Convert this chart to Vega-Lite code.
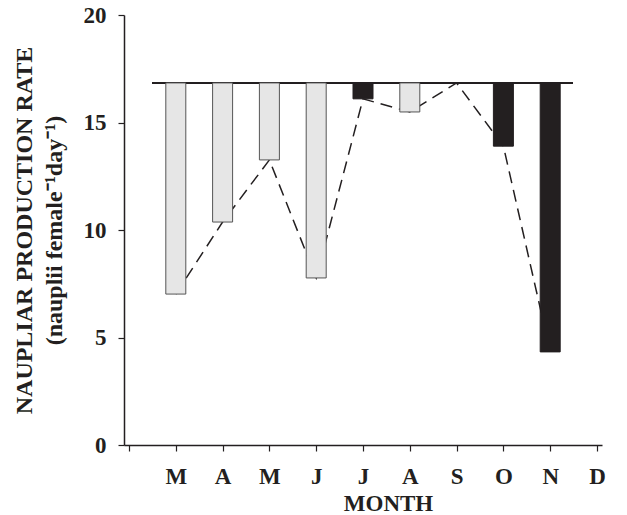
{
  "$schema": "https://vega.github.io/schema/vega-lite/v6.json",
  "width": 478,
  "height": 430,
  "autosize": "none",
  "padding": {"left": 124, "top": 15, "right": 25, "bottom": 70},
  "background": "white",
  "config": {
    "view": {"stroke": null},
    "axis": {
      "grid": false,
      "domainColor": "#231f20",
      "domainWidth": 1.5,
      "tickColor": "#231f20",
      "tickWidth": 1.2,
      "tickSize": 6,
      "labelFont": "Liberation Serif",
      "labelFontWeight": "bold",
      "labelColor": "#231f20",
      "titleFont": "Liberation Serif",
      "titleFontWeight": "bold",
      "titleColor": "#231f20"
    }
  },
  "datasets": {
    "rates": [
      {"x": 1, "month": "M", "rate": 7.02, "kind": "stippled"},
      {"x": 2, "month": "A", "rate": 10.37, "kind": "stippled"},
      {"x": 3, "month": "M", "rate": 13.26, "kind": "stippled"},
      {"x": 4, "month": "J", "rate": 7.77, "kind": "stippled"},
      {"x": 5, "month": "J", "rate": 16.1, "kind": "solid"},
      {"x": 6, "month": "A", "rate": 15.49, "kind": "stippled"},
      {"x": 7, "month": "S", "rate": 16.84, "kind": "none"},
      {"x": 8, "month": "O", "rate": 13.9, "kind": "solid"},
      {"x": 9, "month": "N", "rate": 4.33, "kind": "solid"}
    ]
  },
  "data": {"name": "rates"},
  "layer": [
    {
      "mark": {"type": "line", "color": "#231f20", "strokeWidth": 1.5, "strokeDash": [12, 7]},
      "encoding": {
        "x": {
          "field": "x",
          "type": "quantitative",
          "scale": {"domain": [0, 10], "nice": false, "zero": false},
          "axis": {
            "values": [0, 1, 2, 3, 4, 5, 6, 7, 8, 9, 10],
            "labelExpr": "['', 'M', 'A', 'M', 'J', 'J', 'A', 'S', 'O', 'N', 'D'][datum.value]",
            "labelFontSize": 23,
            "labelPadding": 14,
            "labelDx": 5,
            "labelFlush": false,
            "labelOverlap": false,
            "title": "MONTH",
            "titleFontSize": 23,
            "titleX": 264,
            "titleY": 58,
            "titleBaseline": "middle"
          }
        },
        "y": {
          "field": "rate",
          "type": "quantitative",
          "scale": {"domain": [0, 20], "nice": false},
          "axis": {
            "values": [0, 5, 10, 15, 20],
            "labelFontSize": 23,
            "labelPadding": 12,
            "title": ["NAUPLIAR PRODUCTION RATE", "(nauplii female⁻¹day⁻¹)"],
            "titleFontSize": 24,
            "titleLineHeight": 30,
            "titlePadding": 17
          }
        }
      }
    },
    {
      "mark": {"type": "rule", "color": "#231f20", "strokeWidth": 1.8},
      "encoding": {
        "x": {"datum": 0.5, "type": "quantitative"},
        "x2": {"datum": 9.48},
        "y": {"datum": 16.84, "type": "quantitative"}
      }
    },
    {
      "transform": [{"filter": "datum.kind !== 'none'"}],
      "mark": {"type": "bar", "width": 20, "strokeWidth": 1},
      "encoding": {
        "x": {"field": "x", "type": "quantitative"},
        "y": {"field": "rate", "type": "quantitative"},
        "y2": {"datum": 16.84},
        "fill": {
          "field": "kind",
          "type": "nominal",
          "scale": {"domain": ["stippled", "solid"], "range": ["#e6e6e6", "#231f20"]},
          "legend": null
        },
        "stroke": {
          "field": "kind",
          "type": "nominal",
          "scale": {"domain": ["stippled", "solid"], "range": ["#555555", "#231f20"]},
          "legend": null
        }
      }
    }
  ]
}
